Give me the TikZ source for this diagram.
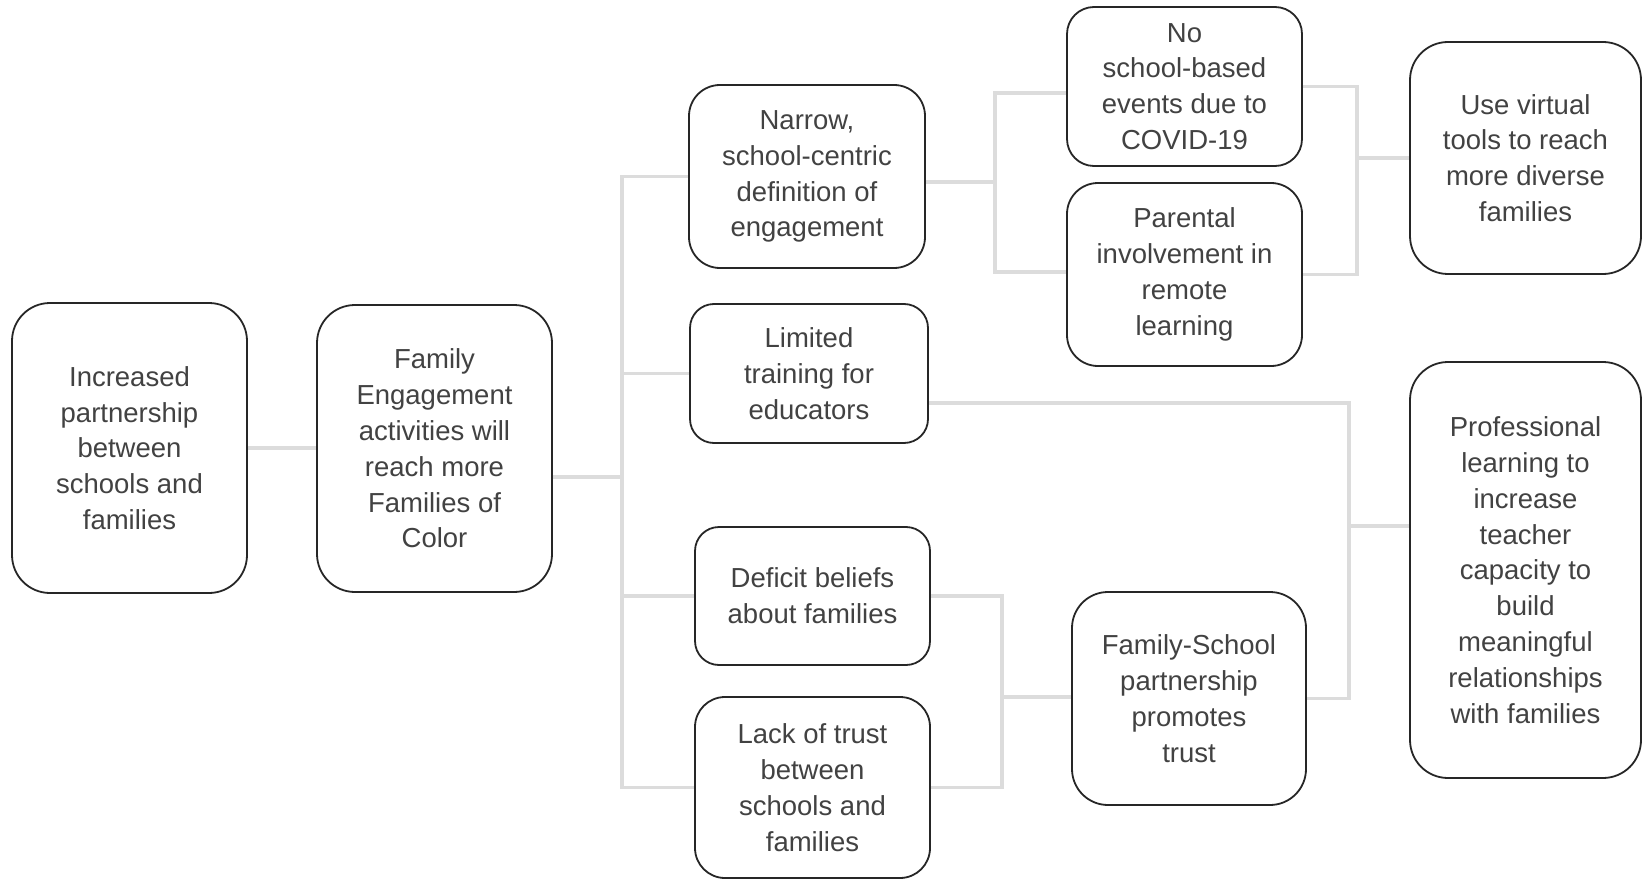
\documentclass[tikz,border=0pt]{standalone}
\usepackage{fontspec}
\setmainfont{Liberation Sans}
\definecolor{boxline}{HTML}{262626}
\definecolor{boxtext}{HTML}{424242}
\definecolor{linkgray}{HTML}{DCDCDC}
\begin{document}
\begin{tikzpicture}[x=1pt,y=-1pt,
  card/.style={draw=boxline, line width=1.8pt, fill=white, align=center,
    inner sep=0pt, text=boxtext,
    font=\fontsize{27.5}{35.8}\selectfont},
  conn/.style={draw=linkgray, line width=3.5pt}]
\useasboundingbox (0,0) rectangle (1642,880);

% column 1 and 2
\node[card, minimum width=235pt, minimum height=290pt, rounded corners=38pt] (goal) at (129.5,448)
  {Increased\\partnership\\between\\schools and\\families};
\node[card, minimum width=235pt, minimum height=287pt, rounded corners=38pt] (fam) at (434.5,448.5)
  {Family\\Engagement\\activities will\\reach more\\Families of\\Color};

% column 3: barriers
\node[card, minimum width=236pt, minimum height=183pt, rounded corners=31pt] (narrow) at (807,176.5)
  {Narrow,\\school-centric\\definition of\\engagement};
\node[card, minimum width=238pt, minimum height=139pt, rounded corners=24pt] (limited) at (809,373.5)
  {Limited\\training for\\educators};
\node[card, minimum width=235pt, minimum height=138pt, rounded corners=24pt] (deficit) at (812.5,596)
  {Deficit beliefs\\about families};
\node[card, minimum width=235pt, minimum height=181pt, rounded corners=30pt] (lack) at (812.5,787.5)
  {Lack of trust\\between\\schools and\\families};

% column 4
\node[card, minimum width=235pt, minimum height=159pt, rounded corners=27pt] (nosch) at (1184.5,86.5)
  {No\\school-based\\events due to\\COVID-19};
\node[card, minimum width=235pt, minimum height=183pt, rounded corners=31pt] (parent) at (1184.5,274.5)
  {Parental\\involvement in\\remote\\learning};
\node[card, minimum width=234pt, minimum height=213pt, rounded corners=36pt] (fsp) at (1189,698.5)
  {Family-School\\partnership\\promotes\\trust};

% column 5: strategies
\node[card, minimum width=231pt, minimum height=232pt, rounded corners=38pt] (virtual) at (1525.5,158)
  {Use virtual\\tools to reach\\more diverse\\families};
\node[card, minimum width=231pt, minimum height=416pt, rounded corners=38pt] (prof) at (1525.5,570)
  {Professional\\learning to\\increase\\teacher\\capacity to\\build\\meaningful\\relationships\\with families};

% junction points
\coordinate (tr) at (622,477);
\coordinate (j1) at (995,182);
\coordinate (j2) at (1357,158);
\coordinate (j3) at (1349,526);
\coordinate (j4) at (1002,697);

% connectors
\draw[conn] (goal.east) -- (fam.west |- goal.east);
\draw[conn] (fam.east |- tr) -- (tr);
\draw[conn] (narrow.west) -| (tr) |- (lack.west);
\draw[conn] (limited.west) -- (limited.west -| tr);
\draw[conn] (deficit.west) -- (deficit.west -| tr);

\draw[conn] (narrow.east |- j1) -- (j1);
\draw[conn] ([yshift=-6.5pt]nosch.west) -| (j1) |- ([yshift=2.5pt]parent.west);

\draw[conn] (nosch.east) -| (j2) |- (parent.east);
\draw[conn] (j2) -- (virtual.west);

\draw[conn] ([yshift=-29.5pt]limited.east) -| (j3) |- (fsp.east);
\draw[conn] (j3) -- (prof.west |- j3);

\draw[conn] (deficit.east) -| (j4) |- (lack.east);
\draw[conn] (j4) -- (fsp.west |- j4);
\end{tikzpicture}
\end{document}
